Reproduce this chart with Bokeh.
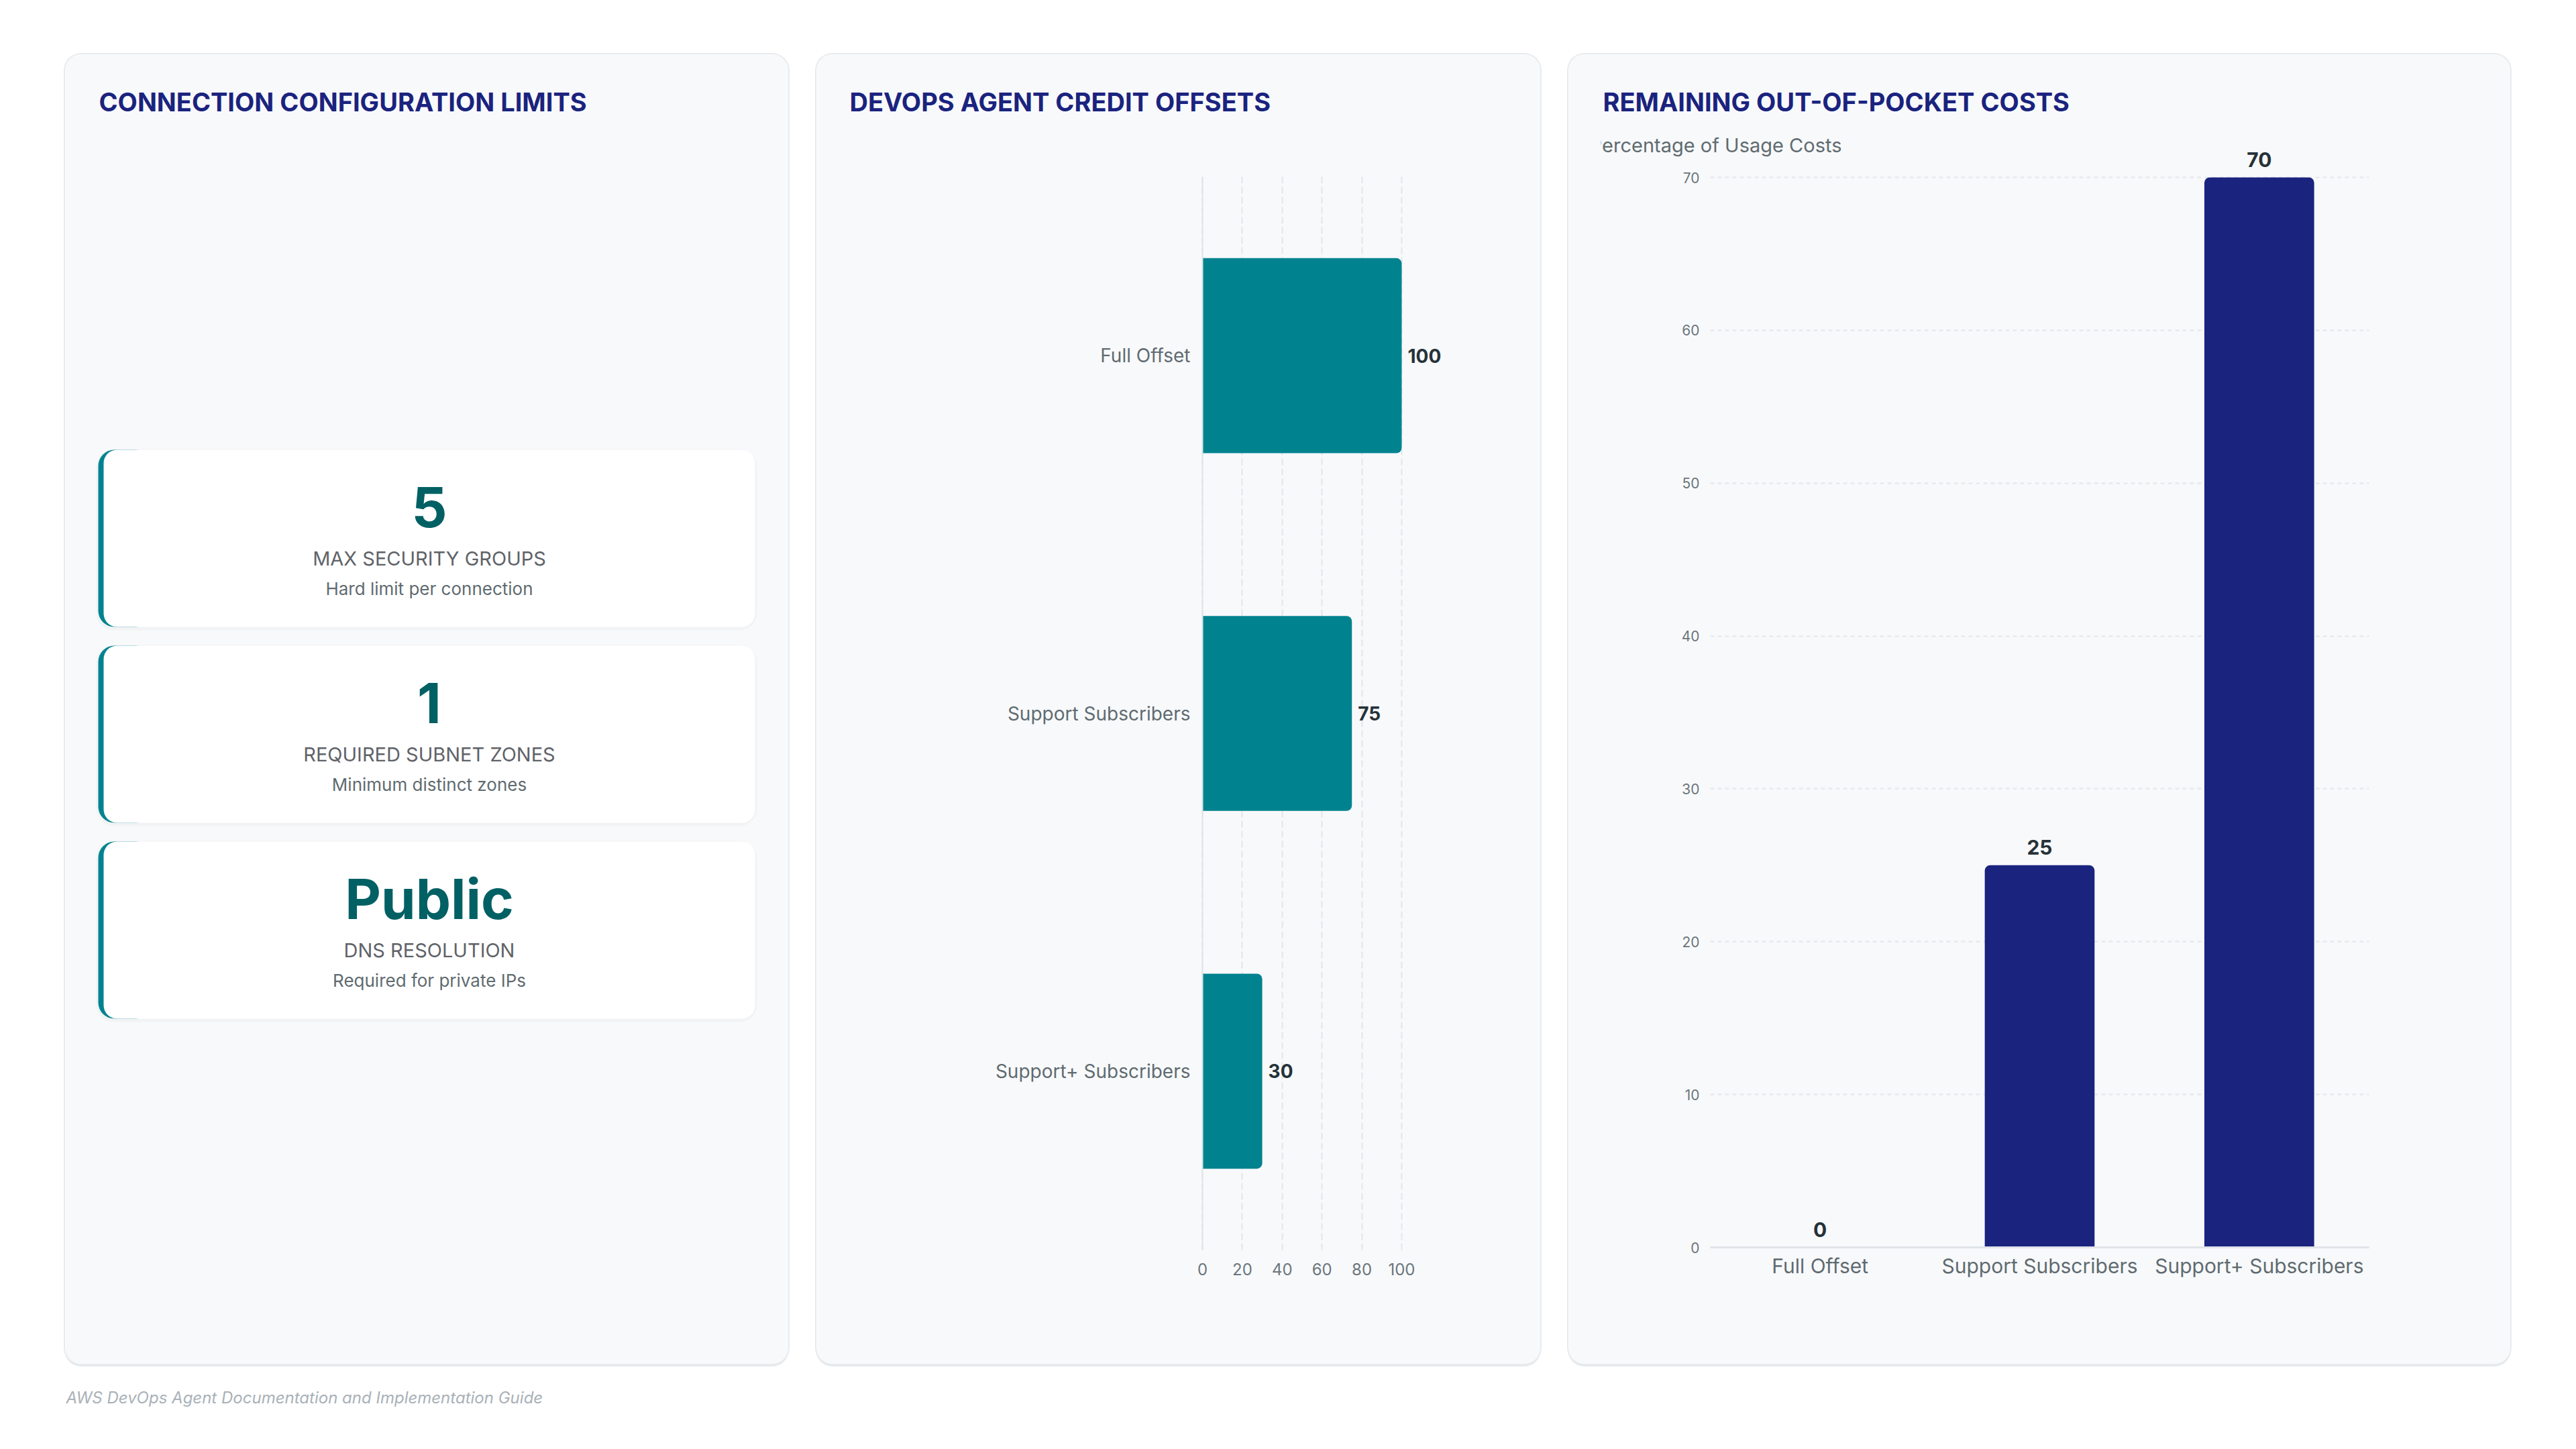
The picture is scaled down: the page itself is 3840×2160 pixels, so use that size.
from bokeh.plotting import figure
from bokeh.models import Range1d, FixedTicker, BoxAnnotation
from bokeh.layouts import row, column
from bokeh.core.properties import value
from bokeh.embed import file_html
from bokeh.resources import INLINE

# ---------------------------------------------------------------- data
limit_values = ["5", "1", "Public"]
limit_labels = ["MAX SECURITY GROUPS", "REQUIRED SUBNET ZONES", "DNS RESOLUTION"]
limit_notes = ["Hard limit per connection", "Minimum distinct zones", "Required for private IPs"]

offset_tiers = ["Full Offset", "Support Subscribers", "Support+ Subscribers"]
offset_pct = [100, 75, 30]
offset_ticks = [0, 20, 40, 60, 80, 100]

remaining_pct = [0, 25, 70]
remaining_ticks = [0, 10, 20, 30, 40, 50, 60, 70]

titles = ["CONNECTION CONFIGURATION LIMITS", "DEVOPS AGENT CREDIT OFFSETS",
          "REMAINING OUT-OF-POCKET COSTS"]
y_title = "Percentage of Usage Costs"
footer_text = "AWS DevOps Agent Documentation and Implementation Guide"

# ---------------------------------------------------------------- style
FONT = "Inter"
NAVY = "#1a237e"
TEAL = "#00838f"
TEAL_DARK = "#006064"
PANEL_BG = "#f8f9fb"
GRID = "#e3e6ea"
AXIS = "#e1e4e8"
MUTED = "#5f6b70"
TICK = "#6b767b"
INK = "#263238"
TITLE_SIZE = "38px"

H = 1952
W1, W2, W3 = 1078, 1079, 1404
panel_styles = {
    "border-radius": "24px",
    "overflow": "hidden",
    "box-shadow": "0 0 0 2px #e8ebee, 0 3px 0 1px #e6e9ec",
}

n_tiers = len(offset_tiers)
# category slots on a numeric scale, first tier first
slot = [i + 0.5 for i in range(n_tiers)]
slot_labels = {s: t for s, t in zip(slot, offset_tiers)}


def base_fig(w, x_range, y_range):
    return figure(width=w, height=H, x_range=x_range, y_range=y_range, min_border=0,
                  toolbar_location=None, output_backend="svg",
                  background_fill_color=PANEL_BG, border_fill_color=PANEL_BG,
                  outline_line_color=None, styles=panel_styles)


def title_text(p, x, y, text):
    p.text(x=[x], y=[y], text=[text], text_font=value(FONT), text_font_size=TITLE_SIZE,
           text_font_style="bold", text_color=NAVY, text_baseline="middle", text_align="left")


# ---------------------------------------------------------------- panel 1: limit cards
p1 = base_fig(W1, Range1d(0, W1), Range1d(H, 0))
p1.xaxis.visible = False
p1.yaxis.visible = False
p1.xgrid.visible = False
p1.ygrid.visible = False
title_text(p1, 50, 70, titles[0])

card_l, card_r, card_h = 49, 1028, 264
card_tops = [589 + i * 292 for i in range(len(limit_values))]
card_bottoms = [t + card_h for t in card_tops]
n = len(card_tops)
p1.quad(left=[card_l - 3] * n, right=[card_r + 3] * n,
        top=[t - 1 for t in card_tops], bottom=[b + 5 for b in card_bottoms],
        fill_color="#000000", fill_alpha=0.025, line_color=None, border_radius=26)
p1.quad(left=[card_l] * n, right=[card_l + 80] * n, top=card_tops, bottom=card_bottoms,
        fill_color=TEAL, line_color=None, border_radius=24)
p1.quad(left=[card_l + 8] * n, right=[card_r] * n, top=card_tops, bottom=card_bottoms,
        fill_color="#ffffff", line_color=None, border_radius=20)

cx = (card_l + 8 + card_r) / 2
p1.text(x=[cx] * n, y=[t + 85 for t in card_tops], text=limit_values,
        text_font=value(FONT), text_font_size="83px", text_font_style="bold",
        text_color=TEAL_DARK, text_align="center", text_baseline="middle")
p1.text(x=[cx] * n, y=[t + 162 for t in card_tops], text=limit_labels,
        text_font=value(FONT), text_font_size="29px", text_color="#5f6368",
        text_align="center", text_baseline="middle")
p1.text(x=[cx] * n, y=[t + 207 for t in card_tops], text=limit_notes,
        text_font=value(FONT), text_font_size="26px", text_color=MUTED,
        text_align="center", text_baseline="middle")

# ---------------------------------------------------------------- panel 2: credit offsets
x0_2, top_2, bot_2 = 575, 182, 1782        # canvas position of the plot area
x2_per = 2.97                              # pixels per percentage point
band2 = (bot_2 - top_2) / n_tiers


def c2(px, py):
    return (px - x0_2) / x2_per, n_tiers - (py - top_2) / band2


p2 = base_fig(W2, Range1d(-x0_2 / x2_per, (W2 - x0_2) / x2_per),
              Range1d(-(H - bot_2) / band2, n_tiers + top_2 / band2))
tier_y = [n_tiers - s for s in slot]       # first tier at the top
p2.hbar(y=tier_y, left=0, right=offset_pct, height=0.545, fill_color=TEAL,
        line_color=None, border_radius=(0, 8, 8, 0))
p2.text(x=offset_pct, y=tier_y, text=[str(v) for v in offset_pct], x_offset=9,
        text_font=value(FONT), text_font_size="28px", text_font_style="bold",
        text_color=INK, text_align="left", text_baseline="middle")

p2.xaxis.fixed_location = 0
p2.xaxis.bounds = (0, 100)
p2.xaxis.ticker = FixedTicker(ticks=offset_ticks)
p2.xaxis.axis_line_color = None
p2.xaxis.major_tick_line_color = None
p2.xaxis.minor_tick_line_color = None
p2.xaxis.major_label_standoff = 13
p2.xaxis.major_label_text_font = FONT
p2.xaxis.major_label_text_font_size = "24px"
p2.xaxis.major_label_text_color = TICK

p2.yaxis.fixed_location = 0
p2.yaxis.bounds = (0, n_tiers)
p2.yaxis.ticker = FixedTicker(ticks=tier_y)
p2.yaxis.major_label_overrides = {n_tiers - s: t for s, t in slot_labels.items()}
p2.yaxis.axis_line_color = AXIS
p2.yaxis.axis_line_width = 2
p2.yaxis.major_tick_line_color = None
p2.yaxis.minor_tick_line_color = None
p2.yaxis.major_label_standoff = 12
p2.yaxis.major_label_text_font = FONT
p2.yaxis.major_label_text_font_size = "28px"
p2.yaxis.major_label_text_color = MUTED

p2.xgrid.grid_line_color = GRID
p2.xgrid.grid_line_width = 2
p2.xgrid.grid_line_dash = "10 5"
p2.xgrid.cross_bounds = (0, n_tiers)
p2.ygrid.visible = False

title_text(p2, *c2(49, 70), titles[1])

# ---------------------------------------------------------------- panel 3: remaining costs
x0_3, bot_3, y70_3 = 211, 1778, 183        # canvas position of the plot area
band3 = (W3 - 2 * x0_3) / n_tiers
y3_per = (bot_3 - y70_3) / 70              # pixels per percentage point


def c3(px, py):
    return (px - x0_3) / band3, (bot_3 - py) / y3_per


p3 = base_fig(W3, Range1d(-x0_3 / band3, (W3 - x0_3) / band3),
              Range1d(-(H - bot_3) / y3_per, bot_3 / y3_per))
p3.vbar(x=slot, bottom=0, top=remaining_pct, width=0.5, fill_color=NAVY,
        line_color=None, border_radius=(8, 8, 0, 0))
p3.text(x=slot, y=remaining_pct, text=[str(v) for v in remaining_pct], y_offset=-27,
        text_font=value(FONT), text_font_size="30px", text_font_style="bold",
        text_color=INK, text_align="center", text_baseline="middle")

p3.xaxis.fixed_location = 0
p3.xaxis.bounds = (0, n_tiers)
p3.xaxis.ticker = FixedTicker(ticks=slot)
p3.xaxis.major_label_overrides = slot_labels
p3.xaxis.axis_line_color = AXIS
p3.xaxis.axis_line_width = 3
p3.xaxis.major_tick_line_color = None
p3.xaxis.minor_tick_line_color = None
p3.xaxis.major_label_standoff = 3
p3.xaxis.major_label_text_font = FONT
p3.xaxis.major_label_text_font_size = "30px"
p3.xaxis.major_label_text_color = MUTED

p3.yaxis.fixed_location = 0
p3.yaxis.bounds = (0, 70)
p3.yaxis.ticker = FixedTicker(ticks=remaining_ticks)
p3.yaxis.axis_line_color = None
p3.yaxis.major_tick_line_color = None
p3.yaxis.minor_tick_line_color = None
p3.yaxis.major_label_standoff = 10
p3.yaxis.major_label_text_font = FONT
p3.yaxis.major_label_text_font_size = "21px"
p3.yaxis.major_label_text_color = TICK

p3.ygrid.grid_line_color = GRID
p3.ygrid.grid_line_width = 2
p3.ygrid.grid_line_dash = "6 5"
p3.ygrid.cross_bounds = (0, n_tiers)
p3.xgrid.visible = False

title_text(p3, *c3(51, 70), titles[2])
yt_x, yt_y = c3(407, 135)
p3.text(x=[yt_x], y=[yt_y], text=[y_title], text_font=value(FONT), text_font_size="29px",
        text_color=MUTED, text_align="right", text_baseline="middle")
# the chart canvas starts at the content padding, so the axis title is cut there
cut_l, cut_t = c3(-4, 105)
cut_r, cut_b = c3(48, 165)
p3.add_layout(BoxAnnotation(left=cut_l, right=cut_r, top=cut_t, bottom=cut_b,
                            fill_color=PANEL_BG, fill_alpha=1.0, line_color=None))

# ---------------------------------------------------------------- footer
FW, FH = 1300, 127
foot = figure(width=FW, height=FH, x_range=Range1d(0, FW), y_range=Range1d(FH, 0),
              min_border=0, toolbar_location=None, output_backend="svg",
              background_fill_alpha=0, border_fill_alpha=0, outline_line_color=None)
foot.xaxis.visible = False
foot.yaxis.visible = False
foot.xgrid.visible = False
foot.ygrid.visible = False
foot.text(x=[1], y=[50], text=[footer_text], text_font=value(FONT), text_font_size="24px",
          text_font_style="italic", text_color="#a9b1b7", text_align="left",
          text_baseline="middle")

layout = column(row(p1, p2, p3, spacing=42), foot, spacing=0, margin=(81, 0, 0, 97))

open("out.html", "w").write(file_html(layout, INLINE))
